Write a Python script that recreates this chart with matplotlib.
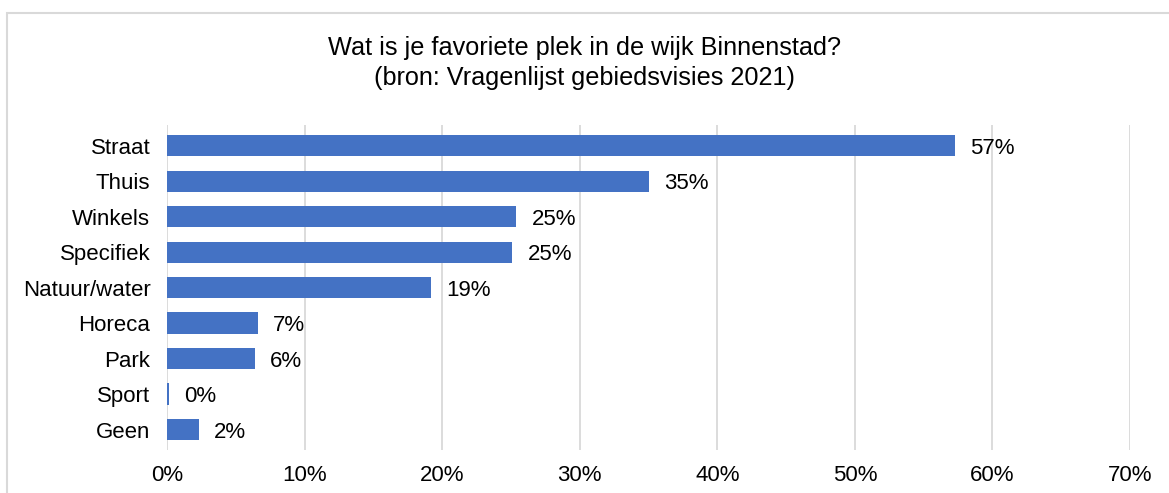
import matplotlib
matplotlib.use("Agg")
import matplotlib.pyplot as plt
from matplotlib.patches import Rectangle

# data (percent)
categories = ["Straat", "Thuis", "Winkels", "Specifiek", "Natuur/water",
              "Horeca", "Park", "Sport", "Geen"]
values = [57.3, 35.0, 25.4, 25.1, 19.2, 6.6, 6.4, 0.15, 2.3]
labels = ["57%", "35%", "25%", "25%", "19%", "7%", "6%", "0%", "2%"]
xticks = [0, 10, 20, 30, 40, 50, 60, 70]

BLUE = "#4472C4"
GRID = "#D9D9D9"
plt.rcParams["font.family"] = ["Liberation Sans", "DejaVu Sans"]

fig = plt.figure(figsize=(11.69, 4.93), dpi=100)
ax = fig.add_axes([0.1429, 0.087, 0.8237, 0.659])

ypos = list(range(len(categories)))
ax.barh(ypos, values, height=0.6, color=BLUE, zorder=3)
for y, v, lab in zip(ypos, values, labels):
    ax.text(v + 1.1, y, lab, va="center_baseline", ha="left", fontsize=16)

ax.set_xlim(0, 70)
ax.set_ylim(len(categories) - 0.42, -0.58)
ax.set_yticks(ypos)
ax.set_yticklabels(categories, fontsize=16)
ax.set_xticks(xticks)
ax.set_xticklabels([f"{t}%" for t in xticks], fontsize=16)
ax.tick_params(length=0)
ax.tick_params(axis="x", pad=11)
ax.tick_params(axis="y", pad=12)
ax.xaxis.grid(True, color=GRID, lw=1.3, zorder=0)
for sp in ax.spines.values():
    sp.set_visible(False)

fig.text(0.5, 0.872, "Wat is je favoriete plek in de wijk Binnenstad?\n"
         "(bron: Vragenlijst gebiedsvisies 2021)",
         ha="center", va="center", fontsize=18.2, linespacing=1.3)

# light frame around the chart area
fig.patches.append(Rectangle((7 / 1169, -0.1), 1.2, 1 - 13 / 493 + 0.1,
                             transform=fig.transFigure, fill=False,
                             edgecolor=GRID, lw=1.5))

fig.savefig("out.png", dpi=100)
